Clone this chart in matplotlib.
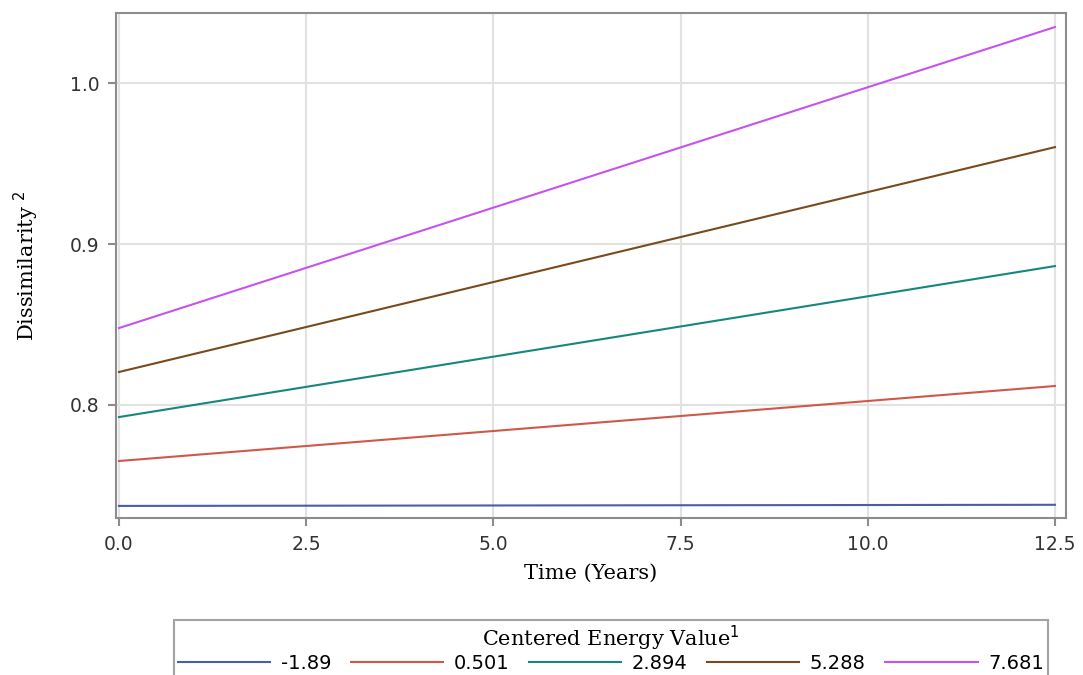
import matplotlib.pyplot as plt
import numpy as np

# time range of the fitted lines
time_years = [0.0, 12.5]

# centered energy values and the fitted dissimilarity at start / end
energy_labels = ['-1.89', '0.501', '2.894', '5.288', '7.681']
diss_start = [0.7373, 0.7652, 0.7925, 0.8205, 0.8478]
diss_end = [0.7380, 0.8118, 0.8863, 0.9602, 1.0348]
colors = ['#4a5ea8', '#d0584a', '#16877e', '#7a4a1e', '#c653ef']

x_ticks = [0.0, 2.5, 5.0, 7.5, 10.0, 12.5]
y_ticks = [0.8, 0.9, 1.0]

fig = plt.figure(figsize=(10.83, 6.75), dpi=100)
ax = fig.add_axes([0.1071, 0.2326, 0.8772, 0.7481])

for lab, y0, y1, c in zip(energy_labels, diss_start, diss_end, colors):
    ax.plot(time_years, [y0, y1], color=c, lw=1.5, label=lab)

ax.set_xlim(-0.04, 12.647)
ax.set_ylim(0.7298, 1.0435)
ax.set_xticks(x_ticks)
ax.set_xticklabels(['%.1f' % v for v in x_ticks])
ax.set_yticks(y_ticks)
ax.set_yticklabels(['%.1f' % v for v in y_ticks])
ax.grid(True, color='#e2e2e2', lw=1.5)
ax.set_axisbelow(True)
for s in ax.spines.values():
    s.set_color('#8c8c8c')
    s.set_linewidth(1.5)
ax.tick_params(axis='both', direction='out', length=6, width=1.5, color='#8c8c8c',
               labelsize=13.5, labelcolor='#333333', pad=6)

ax.set_xlabel('Time (Years)', family='DejaVu Serif', fontsize=15, labelpad=7)
ax.set_ylabel('Dissimilarity $^2$', family='DejaVu Serif', fontsize=15, labelpad=21)

leg = fig.legend(loc='upper center', bbox_to_anchor=(0.564, 0.0815), ncol=5,
                 title='Centered Energy Value$^1$', frameon=True, fancybox=False,
                 handlelength=4.75, handletextpad=0.55, columnspacing=1.0,
                 borderaxespad=0, borderpad=0.2, labelspacing=0.05,
                 prop={'family': 'DejaVu Sans', 'size': 14})
leg.get_title().set_family('DejaVu Serif')
leg.get_title().set_fontsize(15)
leg.get_frame().set_edgecolor('#8c8c8c')
leg.get_frame().set_linewidth(1.5)

fig.savefig('out.png', dpi=100)
